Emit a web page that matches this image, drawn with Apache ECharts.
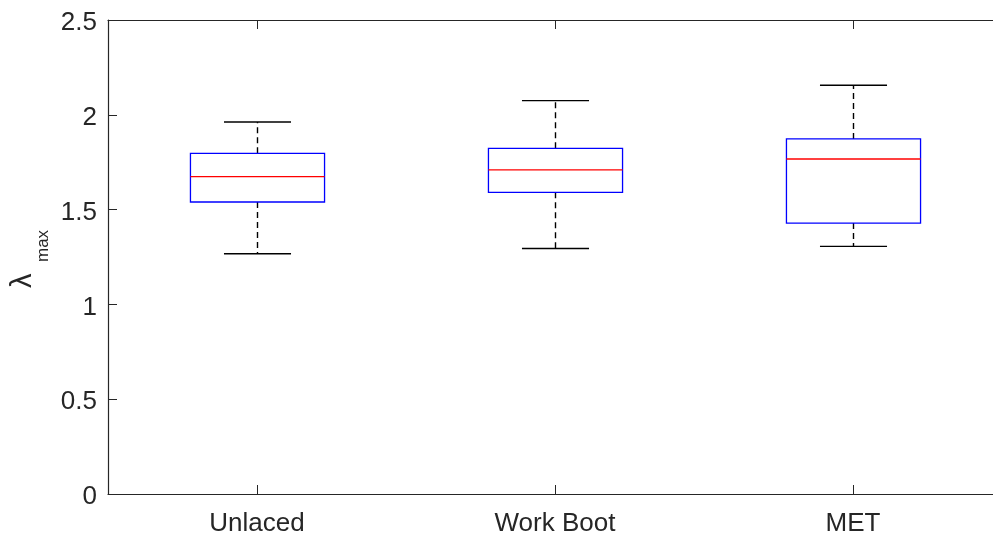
<!DOCTYPE html>
<html>
<head>
<meta charset="utf-8">
<title>λmax by footwear condition</title>
<script src="https://cdn.jsdelivr.net/npm/echarts@6/dist/echarts.min.js"></script>
<style>
  html, body { margin: 0; padding: 0; background: #ffffff; overflow: hidden; }
  #chart { width: 993px; height: 535px; }
</style>
</head>
<body>
<div id="chart"></div>
<script>
// Footwear conditions along the x axis
const categories = ['Unlaced', 'Work Boot', 'MET'];

// Box statistics per condition
const whiskerLow  = [1.267, 1.295, 1.306];
const quartile1   = [1.540, 1.591, 1.429];
const medians     = [1.674, 1.709, 1.767];
const quartile3   = [1.797, 1.823, 1.873];
const whiskerHigh = [1.962, 2.075, 2.156];

// Y axis ticks
const yTicks = { min: 0, max: 2.5, interval: 0.5 };

const axisColor = '#262626';
const fontFamily = '"Liberation Sans", Arial, Helvetica, sans-serif';

const boxData = categories.map((c, i) => [
  i, whiskerLow[i], quartile1[i], medians[i], quartile3[i], whiskerHigh[i]
]);

function renderBox(params, api) {
  const idx = api.value(0);
  const band = api.size([1, 0])[0];
  const boxHalf = band * 0.225;
  const capHalf = band * 0.1125;
  const xc = Math.round(api.coord([idx, 0])[0]) + 0.5;
  const yLo = api.coord([idx, api.value(1)])[1];
  const yQ1 = api.coord([idx, api.value(2)])[1];
  const yMed = api.coord([idx, api.value(3)])[1];
  const yQ3 = api.coord([idx, api.value(4)])[1];
  const yHi = api.coord([idx, api.value(5)])[1];

  const dash = { stroke: '#000000', lineWidth: 1.4, lineDash: [6, 4] };
  const solid = { stroke: '#000000', lineWidth: 1.4 };

  return {
    type: 'group',
    children: [
      { type: 'line', shape: { x1: xc, y1: yQ3, x2: xc, y2: yHi }, style: dash },
      { type: 'line', shape: { x1: xc, y1: yQ1, x2: xc, y2: yLo }, style: dash },
      { type: 'line', shape: { x1: xc - capHalf, y1: yHi, x2: xc + capHalf, y2: yHi }, style: solid },
      { type: 'line', shape: { x1: xc - capHalf, y1: yLo, x2: xc + capHalf, y2: yLo }, style: solid },
      {
        type: 'rect',
        shape: { x: xc - boxHalf, y: yQ3, width: boxHalf * 2, height: yQ1 - yQ3 },
        style: { fill: null, stroke: '#0000ff', lineWidth: 1.3 }
      },
      { type: 'line', shape: { x1: xc - boxHalf, y1: yMed, x2: xc + boxHalf, y2: yMed },
        style: { stroke: '#ff0000', lineWidth: 1.3 } }
    ]
  };
}

const chart = echarts.init(document.getElementById('chart'), null, { renderer: 'canvas' });

const tickStyle = { show: true, inside: true, length: 9, lineStyle: { color: axisColor, width: 1 } };
const lineStyle = { show: true, onZero: false, lineStyle: { color: axisColor, width: 1.2 } };

chart.setOption({
  animation: false,
  backgroundColor: '#ffffff',
  grid: {
    left: 108, top: 20, width: 894, height: 474,
    containLabel: false,
    outerBoundsMode: 'none'
  },
  xAxis: [
    {
      type: 'category',
      data: categories,
      position: 'bottom',
      boundaryGap: true,
      axisLine: lineStyle,
      axisTick: Object.assign({ alignWithLabel: true }, tickStyle),
      axisLabel: { color: axisColor, fontSize: 26, fontFamily: fontFamily, margin: 17 },
      splitLine: { show: false }
    },
    {
      type: 'category',
      data: categories,
      position: 'top',
      boundaryGap: true,
      axisLine: lineStyle,
      axisTick: Object.assign({ alignWithLabel: true }, tickStyle),
      axisLabel: { show: false },
      splitLine: { show: false }
    }
  ],
  yAxis: [
    {
      type: 'value',
      min: yTicks.min,
      max: yTicks.max,
      interval: yTicks.interval,
      position: 'left',
      axisLine: lineStyle,
      axisTick: tickStyle,
      axisLabel: {
        margin: 11,
        formatter: '{v|{value}}',
        rich: {
          v: {
            color: axisColor, fontSize: 26, fontFamily: fontFamily,
            padding: [6, 0, 0, 0]
          }
        }
      },
      splitLine: { show: false }
    }
  ],
  series: [
    {
      type: 'custom',
      name: 'λmax',
      xAxisIndex: 0,
      yAxisIndex: 0,
      data: boxData,
      encode: { x: 0, y: [1, 2, 3, 4, 5] },
      renderItem: renderBox,
      clip: false
    }
  ],
  graphic: [
    {
      type: 'group',
      x: 0,
      y: 290,
      rotation: Math.PI / 2,
      children: [
        {
          type: 'text',
          x: 2,
          y: 23,
          style: {
            text: 'λ',
            fontSize: 29,
            fontFamily: fontFamily,
            fill: axisColor,
            align: 'left',
            verticalAlign: 'middle'
          }
        },
        {
          type: 'text',
          x: 28,
          y: 43,
          style: {
            text: 'max',
            fontSize: 17,
            fontFamily: fontFamily,
            fill: axisColor,
            align: 'left',
            verticalAlign: 'middle'
          }
        }
      ]
    }
  ]
});
</script>
</body>
</html>
